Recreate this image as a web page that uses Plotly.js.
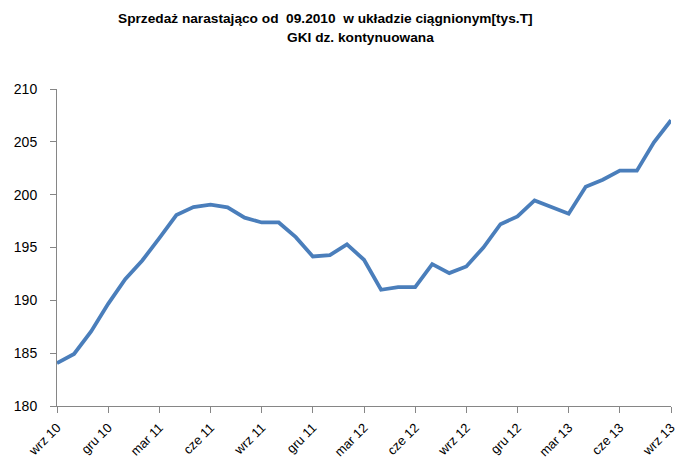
<!DOCTYPE html>
<html>
<head>
<meta charset="utf-8">
<script src="https://cdn.plot.ly/plotly-3.0.1.min.js"></script>
<style>html,body{margin:0;padding:0;background:#fff;}#chart{width:681px;height:462px;}</style>
</head>
<body>
<div id="chart"></div>
<script>
const months = ["wrz 10","paź 10","lis 10","gru 10","sty 11","lut 11","mar 11","kwi 11","maj 11","cze 11","lip 11","sie 11",
  "wrz 11","paź 11","lis 11","gru 11","sty 12","lut 12","mar 12","kwi 12","maj 12","cze 12","lip 12","sie 12",
  "wrz 12","paź 12","lis 12","gru 12","sty 13","lut 13","mar 13","kwi 13","maj 13","cze 13","lip 13","sie 13","wrz 13"];
const sales = [184.05,184.93,187.05,189.67,192.0,193.77,195.89,198.07,198.83,199.05,198.8,197.82,
  197.37,197.37,195.98,194.15,194.28,195.29,193.84,191.0,191.25,191.25,193.43,192.58,
  193.21,195.0,197.2,197.94,199.46,198.8,198.2,200.75,201.41,202.27,202.27,204.95,207.04];
const tickLabels = ["wrz 10","gru 10","mar 11","cze 11","wrz 11","gru 11","mar 12","cze 12","wrz 12","gru 12","mar 13","cze 13","wrz 13"];
const titleLine1 = "Sprzedaż narastająco od  09.2010  w układzie ciągnionym[tys.T]";
const titleLine2 = "GKI dz. kontynuowana";

const trace = {
  x: months, y: sales, type: 'scatter', mode: 'lines',
  line: {color: '#4a7ebb', width: 3.8},
  hoverinfo: 'x+y'
};
const layout = {
  width: 681, height: 462,
  margin: {l: 57, r: 10, t: 89, b: 56},
  paper_bgcolor: '#fff', plot_bgcolor: '#fff',
  showlegend: false,
  font: {family: 'Liberation Sans, Arial, sans-serif', color: '#000'},
  xaxis: {
    type: 'category', range: [0, 36],
    tickmode: 'array', tickvals: tickLabels, ticktext: tickLabels,
    tickangle: -45, ticks: 'outside', ticklen: 6, tickcolor: '#868686',
    ticklabelstandoff: 2,
    showline: true, linecolor: '#868686', linewidth: 1,
    showgrid: false, zeroline: false,
    tickfont: {size: 13, color: '#000', family: 'Liberation Sans, Arial, sans-serif'}
  },
  yaxis: {
    range: [180, 210], tickmode: 'linear', tick0: 180, dtick: 5,
    ticks: 'outside', ticklen: 6, tickcolor: '#868686',
    ticklabelstandoff: 10,
    showline: true, linecolor: '#868686', linewidth: 1,
    showgrid: false, zeroline: false,
    tickfont: {size: 14, color: '#000', family: 'Liberation Sans, Arial, sans-serif'}
  },
  annotations: [
    {text: '<b>' + titleLine1 + '</b>', xref: 'paper', yref: 'paper', x: 0.4365, y: 1, yshift: 71,
     xanchor: 'center', yanchor: 'middle', showarrow: false,
     font: {size: 13.7, color: '#000', family: 'Liberation Sans, Arial, sans-serif'}},
    {text: '<b>' + titleLine2 + '</b>', xref: 'paper', yref: 'paper', x: 0.495, y: 1, yshift: 52,
     xanchor: 'center', yanchor: 'middle', showarrow: false,
     font: {size: 13.7, color: '#000', family: 'Liberation Sans, Arial, sans-serif'}}
  ]
};
Plotly.newPlot('chart', [trace], layout, {displayModeBar: false, staticPlot: true});
</script>
</body>
</html>
